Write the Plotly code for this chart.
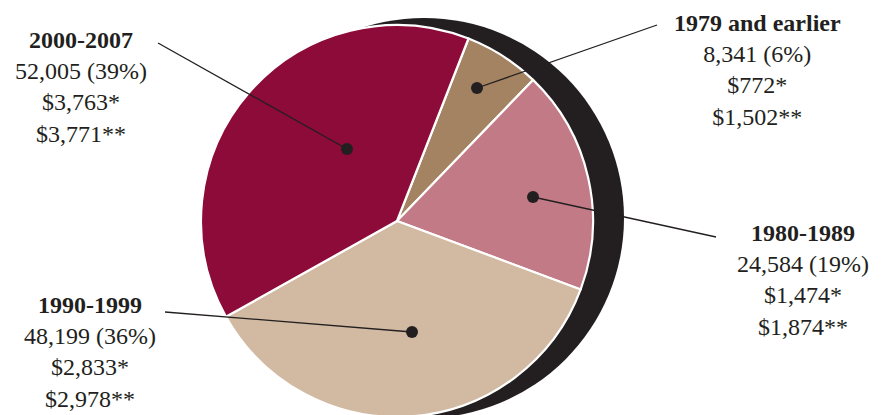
import plotly.graph_objects as go

# ---- data ----
periods = ["1979 and earlier", "1980-1989", "1990-1999", "2000-2007"]
counts = [8341, 24584, 48199, 52005]
pct_labels = ["6%", "19%", "36%", "39%"]
amount_star = ["$772*", "$1,474*", "$2,833*", "$3,763*"]
amount_dstar = ["$1,502**", "$1,874**", "$2,978**", "$3,771**"]
colors = ["#A38361", "#C27B86", "#D2BAA2", "#8C0B38"]

# ---- layout config (pixel positions) ----
W, H = 890, 430
pie_cx, pie_cy, pie_r = 397, 221, 196
shadow = dict(cx=424, cy=218, r=200)
label_pos = [(757, 70), (803, 280), (90, 352), (81, 87)]   # text block centers
line_start = [(657, 25), (716, 237), (165, 312), (158, 43)]
dot_pos = [(477, 88), (533, 197), (412, 332), (347, 149)]
dot_r = 6
ink = "#231F20"
font_family = "Liberation Serif, Times New Roman, serif"

fig = go.Figure()

fig.add_trace(go.Pie(
    labels=periods, values=counts, sort=False, direction="clockwise",
    rotation=21.4, marker=dict(colors=colors, line=dict(color="white", width=2.2)),
    textinfo="none", hoverinfo="label+value+percent", showlegend=False,
    domain=dict(x=[(pie_cx - pie_r) / W, (pie_cx + pie_r) / W],
                y=[(H - pie_cy - pie_r) / H, (H - pie_cy + pie_r) / H]),
))

# invisible pixel-coordinate axes for shapes
fig.add_trace(go.Scatter(x=[0, W], y=[0, H], mode="markers",
                         marker=dict(opacity=0), hoverinfo="skip", showlegend=False))

shapes = [dict(type="circle", xref="x", yref="y", layer="below",
               x0=shadow["cx"] - shadow["r"], x1=shadow["cx"] + shadow["r"],
               y0=shadow["cy"] - shadow["r"], y1=shadow["cy"] + shadow["r"],
               fillcolor=ink, line=dict(width=0))]
annotations = []
for i, p in enumerate(periods):
    (lx, ly), (sx, sy), (dx, dy) = label_pos[i], line_start[i], dot_pos[i]
    shapes.append(dict(type="line", xref="x", yref="y", layer="above",
                       x0=sx, y0=sy, x1=dx, y1=dy, line=dict(color=ink, width=1.3)))
    shapes.append(dict(type="circle", xref="x", yref="y", layer="above",
                       x0=dx - dot_r, x1=dx + dot_r, y0=dy - dot_r, y1=dy + dot_r,
                       fillcolor=ink, line=dict(width=0)))
    text = (f"<b>{p}</b><br>{counts[i]:,} ({pct_labels[i]})<br>"
            f"{amount_star[i]}<br>{amount_dstar[i]}")
    annotations.append(dict(x=lx, y=ly, xref="x", yref="y", text=text,
                            showarrow=False, align="center",
                            xanchor="center", yanchor="middle",
                            font=dict(family=font_family, size=24, color=ink)))

fig.update_layout(
    width=W, height=H, margin=dict(l=0, r=0, t=0, b=0),
    paper_bgcolor="white", plot_bgcolor="rgba(0,0,0,0)",
    xaxis=dict(range=[0, W], visible=False, fixedrange=True),
    yaxis=dict(range=[H, 0], visible=False, fixedrange=True),
    shapes=shapes, annotations=annotations,
)

fig.write_html("out.html",
               post_script="document.body.style.margin='0';document.body.style.overflow='hidden';"
                           "document.documentElement.style.overflow='hidden';")
